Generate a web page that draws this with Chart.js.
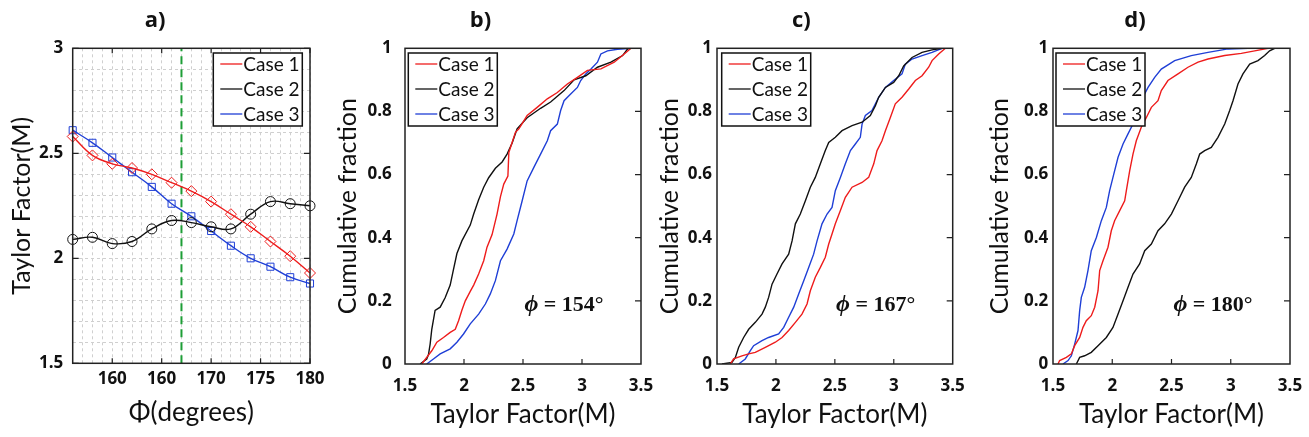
<!DOCTYPE html>
<html lang="en">
<head>
    <meta charset="UTF-8">
    <title>Taylor factor and cumulative fraction</title>
    <script src="https://cdn.jsdelivr.net/npm/chart.js@4.4.0/dist/chart.umd.min.js"></script>
    <style>
        html, body {
            margin: 0;
            padding: 0;
            background: #fff;
            overflow: hidden;
        }
        body {
            position: relative;
            width: 1309px;
            height: 437px;
        }
        .panel {
            position: absolute;
            top: 0;
            height: 437px;
        }
    </style>
</head>
<body>
    <div class="panel" style="left:0;width:393px"><canvas id="chartA"></canvas></div>
    <div class="panel" style="left:320px;width:386px"><canvas id="chartB"></canvas></div>
    <div class="panel" style="left:650px;width:376px"><canvas id="chartC"></canvas></div>
    <div class="panel" style="left:980px;width:393px"><canvas id="chartD"></canvas></div>

    <script>
        // ---- data ----
        const caseNames = ['Case 1', 'Case 2', 'Case 3'];
        const caseColors = ['#ee1c1c', '#111111', '#1f3fd6'];

        // a) Taylor factor against Phi
        const phiDeg = [156, 158, 160, 162, 164, 166, 168, 170, 172, 174, 176, 178, 180];
        const taylorCase1 = [2.58, 2.49, 2.45, 2.43, 2.40, 2.36, 2.32, 2.27, 2.21, 2.15, 2.08, 2.01, 1.93];
        const taylorCase2 = [2.09, 2.10, 2.07, 2.08, 2.14, 2.18, 2.17, 2.15, 2.14, 2.21, 2.27, 2.26, 2.25];
        const taylorCase3 = [2.61, 2.55, 2.48, 2.41, 2.34, 2.26, 2.20, 2.13, 2.06, 2.00, 1.96, 1.91, 1.88];
        const phiMark = 167;
        const phiTickValues = [160, 165, 170, 175, 180];
        const phiTickLabels = ['160', '160', '170', '175', '180'];
        const taylorTickValues = [1.5, 2, 2.5, 3];
        const taylorTickLabels = ['1.5', '2', '2.5', '3'];

        // b), c), d) cumulative fraction, [Taylor factor, fraction]
        const cdf154Case1 = [[1.642,0],[1.684,0.021],[1.727,0.042],[1.770,0.069],[1.826,0.084],[1.883,0.100],[1.926,0.110],[1.954,0.137],[1.982,0.170],[2.011,0.200],[2.053,0.230],[2.082,0.250],[2.124,0.285],[2.167,0.327],[2.195,0.370],[2.238,0.410],[2.280,0.475],[2.309,0.530],[2.337,0.570],[2.372,0.595],[2.380,0.670],[2.436,0.734],[2.465,0.745],[2.535,0.787],[2.620,0.813],[2.706,0.840],[2.791,0.860],[2.876,0.887],[2.961,0.908],[3.046,0.930],[3.160,0.935],[3.273,0.956],[3.358,0.982],[3.415,1]];
        const cdf154Case2 = [[1.628,0],[1.684,0.016],[1.699,0.030],[1.713,0.063],[1.727,0.110],[1.755,0.170],[1.798,0.180],[1.840,0.210],[1.883,0.250],[1.911,0.300],[1.940,0.350],[1.982,0.390],[2.053,0.440],[2.082,0.475],[2.124,0.520],[2.167,0.560],[2.209,0.590],[2.266,0.620],[2.323,0.640],[2.365,0.665],[2.408,0.700],[2.436,0.730],[2.450,0.745],[2.535,0.780],[2.649,0.810],[2.734,0.830],[2.848,0.866],[2.933,0.900],[3.032,0.913],[3.131,0.940],[3.245,0.956],[3.344,0.977],[3.387,0.998],[3.415,1]];
        const cdf154Case3 = [[1.684,0],[1.741,0.016],[1.798,0.032],[1.883,0.048],[1.940,0.069],[1.996,0.095],[2.053,0.127],[2.124,0.158],[2.181,0.190],[2.223,0.222],[2.266,0.264],[2.309,0.327],[2.365,0.364],[2.422,0.412],[2.450,0.454],[2.493,0.517],[2.535,0.580],[2.592,0.623],[2.649,0.665],[2.706,0.707],[2.734,0.739],[2.791,0.760],[2.819,0.803],[2.848,0.834],[2.904,0.855],[2.961,0.876],[2.989,0.898],[3.032,0.919],[3.074,0.934],[3.131,0.956],[3.160,0.982],[3.216,0.992],[3.301,0.997],[3.415,1]];

        const cdf167Case1 = [[1.613,0],[1.641,0.016],[1.712,0.026],[1.769,0.032],[1.825,0.037],[1.910,0.053],[1.995,0.069],[2.052,0.084],[2.108,0.106],[2.165,0.132],[2.221,0.158],[2.264,0.190],[2.292,0.232],[2.334,0.275],[2.377,0.306],[2.419,0.338],[2.448,0.380],[2.476,0.412],[2.504,0.444],[2.547,0.486],[2.589,0.528],[2.646,0.560],[2.731,0.575],[2.787,0.591],[2.830,0.634],[2.858,0.676],[2.900,0.707],[2.929,0.739],[2.971,0.781],[3.013,0.824],[3.070,0.845],[3.127,0.871],[3.183,0.898],[3.240,0.913],[3.296,0.940],[3.325,0.961],[3.381,0.982],[3.438,1]];
        const cdf167Case2 = [[1.542,0],[1.627,0.005],[1.656,0.021],[1.684,0.053],[1.726,0.084],[1.769,0.110],[1.825,0.132],[1.882,0.158],[1.910,0.180],[1.938,0.211],[1.967,0.253],[2.009,0.285],[2.052,0.317],[2.108,0.348],[2.137,0.390],[2.165,0.444],[2.207,0.475],[2.250,0.517],[2.292,0.560],[2.334,0.591],[2.377,0.634],[2.419,0.676],[2.448,0.702],[2.504,0.718],[2.561,0.739],[2.646,0.755],[2.731,0.766],[2.801,0.787],[2.844,0.818],[2.872,0.845],[2.929,0.876],[2.999,0.892],[3.042,0.913],[3.084,0.944],[3.155,0.971],[3.240,0.987],[3.325,0.995],[3.410,1]];
        const cdf167Case3 = [[1.684,0],[1.740,0.016],[1.783,0.042],[1.811,0.058],[1.882,0.074],[1.938,0.084],[2.023,0.095],[2.066,0.116],[2.108,0.148],[2.151,0.180],[2.193,0.222],[2.236,0.264],[2.278,0.306],[2.320,0.348],[2.349,0.390],[2.391,0.444],[2.434,0.475],[2.476,0.496],[2.504,0.549],[2.547,0.591],[2.589,0.634],[2.632,0.676],[2.674,0.697],[2.716,0.718],[2.731,0.760],[2.759,0.787],[2.815,0.803],[2.872,0.845],[2.929,0.876],[2.999,0.898],[3.070,0.919],[3.098,0.950],[3.155,0.966],[3.240,0.977],[3.325,0.987],[3.410,1]];

        const cdf180Case1 = [[1.542,0],[1.556,0.011],[1.613,0.021],[1.655,0.032],[1.683,0.058],[1.725,0.084],[1.753,0.116],[1.781,0.137],[1.823,0.153],[1.852,0.180],[1.880,0.232],[1.894,0.296],[1.922,0.327],[1.964,0.370],[1.992,0.422],[2.020,0.454],[2.063,0.486],[2.105,0.517],[2.119,0.549],[2.147,0.612],[2.175,0.665],[2.203,0.707],[2.245,0.750],[2.288,0.781],[2.330,0.813],[2.386,0.834],[2.414,0.866],[2.470,0.898],[2.555,0.919],[2.639,0.940],[2.724,0.956],[2.808,0.966],[2.949,0.977],[3.089,0.984],[3.202,0.992],[3.314,1]];
        const cdf180Case2 = [[1.697,0],[1.725,0.021],[1.767,0.026],[1.823,0.037],[1.880,0.058],[1.950,0.084],[2.006,0.116],[2.049,0.158],[2.091,0.200],[2.133,0.243],[2.175,0.285],[2.231,0.317],[2.274,0.359],[2.330,0.380],[2.386,0.422],[2.442,0.444],[2.499,0.475],[2.555,0.517],[2.611,0.560],[2.667,0.591],[2.710,0.634],[2.738,0.665],[2.780,0.676],[2.836,0.686],[2.892,0.718],[2.949,0.760],[2.991,0.803],[3.019,0.834],[3.061,0.887],[3.103,0.919],[3.160,0.950],[3.230,0.961],[3.286,0.977],[3.328,0.992],[3.371,1]];
        const cdf180Case3 = [[1.584,0],[1.627,0.011],[1.655,0.026],[1.683,0.063],[1.711,0.106],[1.725,0.169],[1.739,0.211],[1.767,0.243],[1.795,0.296],[1.823,0.359],[1.866,0.401],[1.908,0.454],[1.950,0.496],[1.978,0.549],[2.006,0.591],[2.049,0.655],[2.091,0.697],[2.133,0.729],[2.175,0.760],[2.217,0.803],[2.259,0.845],[2.302,0.876],[2.358,0.908],[2.414,0.934],[2.527,0.961],[2.667,0.977],[2.808,0.987],[2.977,0.998],[3.146,1]];

        const cdfTickLabelsX = ['1.5', '2', '2.5', '3', '3.5'];
        const cdfTickLabelsY = ['0', '0.2', '0.4', '0.6', '0.8', '1'];

        // ---- shared look ----
        const FONT = 'Lato, "Open Sans", sans-serif';
        const TICK_FONT = {family: '"Open Sans", Lato, sans-serif', size: 17, weight: 'bold'};
        Chart.defaults.font.family = FONT;
        Chart.defaults.color = '#111';

        // box round the plot plus inward tick marks
        const frame = {
            id: 'frame',
            afterDatasetsDraw(chart, args, opts) {
                const {ctx, chartArea: a, scales: {x, y}} = chart;
                ctx.save();
                ctx.strokeStyle = '#222';
                ctx.lineWidth = 1.5;
                ctx.strokeRect(a.left, a.top, a.width, a.height);
                ctx.lineWidth = 1.2;
                ctx.beginPath();
                (opts.xTicks || []).forEach(v => {
                    const px = x.getPixelForValue(v);
                    ctx.moveTo(px, a.bottom); ctx.lineTo(px, a.bottom - 5);
                    if (opts.all) { ctx.moveTo(px, a.top); ctx.lineTo(px, a.top + 5); }
                });
                (opts.yTicks || []).forEach(v => {
                    const py = y.getPixelForValue(v);
                    ctx.moveTo(a.right, py); ctx.lineTo(a.right - 6, py);
                    if (opts.all) { ctx.moveTo(a.left, py); ctx.lineTo(a.left + 6, py); }
                });
                ctx.stroke();
                ctx.restore();
            }
        };

        // boxed legend inside the plot
        const boxLegend = {
            id: 'boxLegend',
            afterDraw(chart, args, opts) {
                const {ctx, chartArea: a} = chart;
                const w = 89, h = 73, rows = [11, 36, 61];
                const x0 = opts.side === 'right' ? a.right - opts.dx - w : a.left + opts.dx;
                const y0 = a.top + 4.7;
                ctx.save();
                ctx.fillStyle = '#fff';
                ctx.fillRect(x0, y0, w, h);
                ctx.strokeStyle = '#111';
                ctx.lineWidth = 1.5;
                ctx.strokeRect(x0, y0, w, h);
                ctx.font = '19px ' + FONT;
                ctx.textBaseline = 'middle';
                caseNames.forEach((name, i) => {
                    const yy = y0 + rows[i];
                    ctx.strokeStyle = caseColors[i];
                    ctx.lineWidth = 1.3;
                    ctx.beginPath();
                    ctx.moveTo(x0 + 7, yy);
                    ctx.lineTo(x0 + 29, yy);
                    ctx.stroke();
                    ctx.fillStyle = '#111';
                    ctx.fillText(name, x0 + 30, yy + 1);
                });
                ctx.restore();
            }
        };

        // "phi = ..." note
        const phiLabel = {
            id: 'phiLabel',
            afterDatasetsDraw(chart, args, opts) {
                if (opts.angle == null) return;
                const {ctx, chartArea: a} = chart;
                const serif = '"Liberation Serif", "DejaVu Serif", serif';
                const rest = ' = ' + opts.angle + '°';
                ctx.save();
                ctx.fillStyle = '#111';
                ctx.textBaseline = 'middle';
                ctx.font = 'italic bold 24px ' + serif;
                const w1 = ctx.measureText('ϕ').width;
                ctx.font = 'bold 22px ' + serif;
                const w2 = ctx.measureText(rest).width;
                const cx = a.right - 77, cy = a.bottom - 59;
                let x = cx - (w1 + w2) / 2;
                ctx.font = 'italic bold 24px ' + serif;
                ctx.fillText('ϕ', x, cy);
                ctx.font = 'bold 22px ' + serif;
                ctx.fillText(rest, x + w1, cy);
                ctx.restore();
            }
        };

        const titleOpts = text => ({
            display: true,
            text: text,
            font: {family: '"Open Sans", Lato, sans-serif', size: 22, weight: 'bold'},
            color: '#111',
            padding: {top: 7.8, bottom: 14.1}
        });

        // ---- a) ----
        const markerStyles = ['rectRot', 'circle', 'rect'];
        const markerSizes = [5.5, 5, 5];
        new Chart(document.getElementById('chartA'), {
            type: 'line',
            data: {
                datasets: [
                    ...[taylorCase1, taylorCase2, taylorCase3].map((vals, i) => ({
                        label: caseNames[i],
                        data: phiDeg.map((x, j) => ({x: x, y: vals[j]})),
                        borderColor: caseColors[i],
                        borderWidth: 1.4,
                        tension: 0.4,
                        pointStyle: markerStyles[i],
                        pointRadius: markerSizes[i],
                        pointBorderColor: caseColors[i],
                        pointBackgroundColor: 'rgba(0,0,0,0)',
                        pointBorderWidth: 1,
                        clip: false
                    })),
                    {
                        label: 'phi',
                        data: [{x: phiMark, y: 1.5}, {x: phiMark, y: 3}],
                        borderColor: '#1d9e36',
                        borderDash: [8, 5],
                        borderWidth: 2,
                        pointRadius: 0
                    }
                ]
            },
            options: {
                responsive: true,
                maintainAspectRatio: false,
                animation: false,
                layout: {padding: {left: 0, right: 83, top: 0, bottom: 0}},
                plugins: {
                    legend: {display: false},
                    tooltip: {enabled: false},
                    title: titleOpts('a)'),
                    frame: {xTicks: phiTickValues, yTicks: taylorTickValues, all: true},
                    boxLegend: {side: 'right', dx: 7.7}
                },
                scales: {
                    x: {
                        type: 'linear',
                        min: 156,
                        max: 180,
                        afterFit: s => { s.height = 73.7; },
                        grid: {color: '#cfcfcf', lineWidth: 1, drawTicks: false},
                        border: {display: false, dash: [3, 3]},
                        ticks: {
                            stepSize: 1,
                            autoSkip: false,
                            maxRotation: 0,
                            padding: 5.5,
                            font: TICK_FONT,
                            callback: v => {
                                const i = phiTickValues.indexOf(v);
                                return i >= 0 ? phiTickLabels[i] : '';
                            }
                        },
                        title: {display: true, text: 'Φ(degrees)', font: {size: 26}, padding: {top: 0, bottom: 8.9}}
                    },
                    y: {
                        min: 1.5,
                        max: 3,
                        afterFit: s => { s.width = 72.7; },
                        grid: {color: '#cfcfcf', lineWidth: 1, drawTicks: false},
                        border: {display: false, dash: [3, 3]},
                        ticks: {
                            stepSize: 0.1,
                            autoSkip: false,
                            padding: 9.4,
                            font: TICK_FONT,
                            callback: v => {
                                const i = taylorTickValues.findIndex(t => Math.abs(t - v) < 1e-6);
                                return i >= 0 ? taylorTickLabels[i] : '';
                            }
                        },
                        title: {display: true, text: 'Taylor Factor(M)', font: {size: 25}, padding: {top: 6.7, bottom: 0}}
                    }
                }
            },
            plugins: [frame, boxLegend]
        });

        // ---- b), c), d) ----
        function cdfChart(id, title, series, angle, box) {
            return new Chart(document.getElementById(id), {
                type: 'line',
                data: {
                    datasets: series.map((pts, i) => ({
                        label: caseNames[i],
                        data: pts.map(([x, y]) => ({x: x, y: y})),
                        borderColor: caseColors[i],
                        borderWidth: 1.4,
                        pointRadius: 0,
                        tension: 0
                    }))
                },
                options: {
                    responsive: true,
                    maintainAspectRatio: false,
                    animation: false,
                    layout: {padding: {left: 0, right: box.right, top: 0, bottom: 0}},
                    plugins: {
                        legend: {display: false},
                        tooltip: {enabled: false},
                        title: titleOpts(title),
                        frame: {xTicks: [2, 2.5, 3], yTicks: [0.2, 0.4, 0.6, 0.8]},
                        boxLegend: {side: 'left', dx: box.legendDx},
                        phiLabel: {angle: angle}
                    },
                    scales: {
                        x: {
                            type: 'linear',
                            min: 1.5,
                            max: 3.5,
                            afterFit: s => { s.height = 73; },
                            grid: {display: false, drawTicks: false},
                            border: {display: false},
                            ticks: {
                                stepSize: 0.5,
                                autoSkip: false,
                                maxRotation: 0,
                                padding: 11.5,
                                font: TICK_FONT,
                                callback: (v, i) => cdfTickLabelsX[i]
                            },
                            title: {display: true, text: 'Taylor Factor(M)', font: {size: 26}, padding: {top: 0, bottom: 7}}
                        },
                        y: {
                            min: 0,
                            max: 1,
                            afterFit: s => { s.width = box.yWidth; },
                            grid: {display: false, drawTicks: false},
                            border: {display: false},
                            ticks: {
                                stepSize: 0.2,
                                autoSkip: false,
                                padding: box.tickPad,
                                font: TICK_FONT,
                                callback: (v, i) => cdfTickLabelsY[i]
                            },
                            title: {display: true, text: 'Cumulative fraction', font: {size: 25}, padding: {top: box.titlePad, bottom: 0}}
                        }
                    }
                },
                plugins: [frame, phiLabel, boxLegend]
            });
        }

        cdfChart('chartB', 'b)', [cdf154Case1, cdf154Case2, cdf154Case3], 154,
            {right: 65, yWidth: 85, tickPad: 13.3, titlePad: 13.3, legendDx: 3.3});
        cdfChart('chartC', 'c)', [cdf167Case1, cdf167Case2, cdf167Case3], 167,
            {right: 73.3, yWidth: 67, tickPad: 5, titlePad: 5, legendDx: 4.7});
        cdfChart('chartD', 'd)', [cdf180Case1, cdf180Case2, cdf180Case3], 180,
            {right: 83, yWidth: 73, tickPad: 4.7, titlePad: 5, legendDx: 3});
    </script>
</body>
</html>
